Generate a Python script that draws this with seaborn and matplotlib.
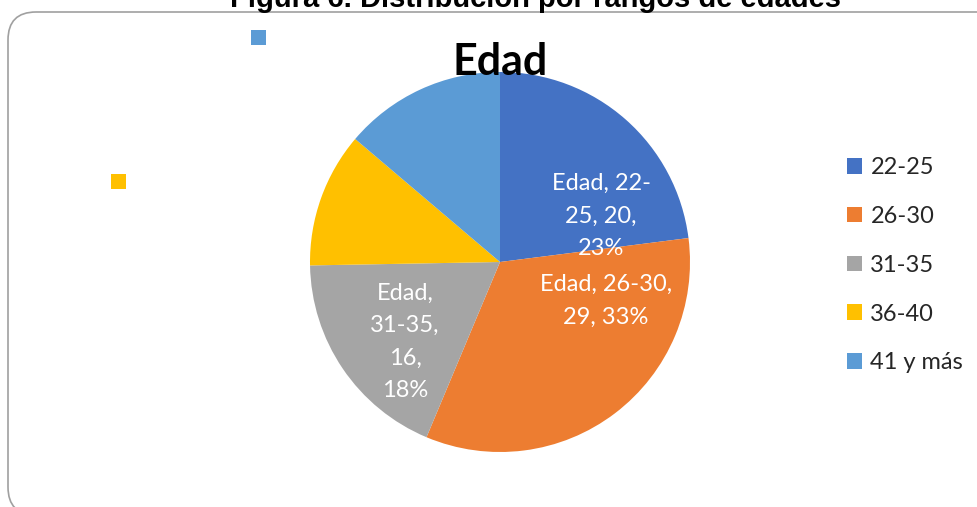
import re
import seaborn as sns
import matplotlib.pyplot as plt
from matplotlib.patches import FancyBboxPatch, Rectangle

categories = ["22-25", "26-30", "31-35", "36-40", "41 y más"]
counts = [20, 29, 16, 10, 12]
series_name = "Edad"
fig_title = "Figura 6. Distribución por rangos de edades"
colors = ["#4472C4", "#ED7D31", "#A5A5A5", "#FFC000", "#5B9BD5"]

sns.set_theme(style="white")
plt.rcParams["font.family"] = ["Lato", "DejaVu Sans"]
pal = sns.color_palette(colors)

W, H = 977, 507
fig = plt.figure(figsize=(W / 100, H / 100), dpi=100)
ax = fig.add_axes([0, 0, 1, 1])

def Y(y):
    return H - y

def wrap(s, width):
    # greedy wrap that may break after a space or a hyphen (like Excel)
    parts = [p for p in re.split(r"(?<=-)|(?<= )", s) if p]
    lines, cur = [], ""
    for p in parts:
        if cur and len((cur + p).rstrip()) > width:
            lines.append(cur.rstrip())
            cur = p
        else:
            cur += p
    lines.append(cur.rstrip())
    return "\n".join(lines)

# pie in pixel coordinates
cx, cy, rad = 500, 262, 190
wedges, _ = ax.pie(counts, colors=pal, startangle=90, counterclock=False,
                   center=(cx, Y(cy)), radius=rad,
                   wedgeprops=dict(linewidth=0))
ax.set_xlim(0, W)
ax.set_ylim(0, H)
ax.set_aspect("equal")
ax.axis("off")

# data labels (only first three shown, as in the original)
total = sum(counts)
label_pos = [(601, 216), (606, 301), (405, 342)]
wrap_w = [9, 12, 6]
for i in range(3):
    pct = round(counts[i] / total * 100)
    txt = wrap(f"{series_name}, {categories[i]}, {counts[i]}, {pct}%", wrap_w[i])
    ax.text(label_pos[i][0], Y(label_pos[i][1]), txt, color="white",
            fontsize=17, ha="center", va="center", linespacing=1.68)

# empty label boxes left over from the other two slices
ax.add_patch(Rectangle((251, Y(45)), 15, 15, color=pal[4], lw=0))
ax.add_patch(Rectangle((111, Y(189)), 15, 15, color=pal[3], lw=0))

# chart title
ax.text(500, Y(62), series_name, fontsize=31, fontweight="bold",
        ha="center", va="center", color="black")

# figure caption (cut off at top, as in the original)
ax.text(535, Y(7), fig_title, fontsize=21, fontweight="bold",
        ha="center", va="baseline", family="Liberation Sans", color="black")

# chart border
box = FancyBboxPatch((8, Y(515)), 1000, 515 - 12,
                     boxstyle="round,pad=0,rounding_size=28",
                     fill=False, edgecolor="#a0a0a0", lw=1.2)
ax.add_patch(box)

leg = ax.legend(wedges, categories, loc="upper left",
                bbox_to_anchor=(847 / W, 1 - 157 / H), frameon=False,
                fontsize=17, handlelength=0.64, handleheight=0.64,
                handletextpad=0.35, labelspacing=1.18, borderpad=0, borderaxespad=0)

fig.savefig("out.png", dpi=100)
